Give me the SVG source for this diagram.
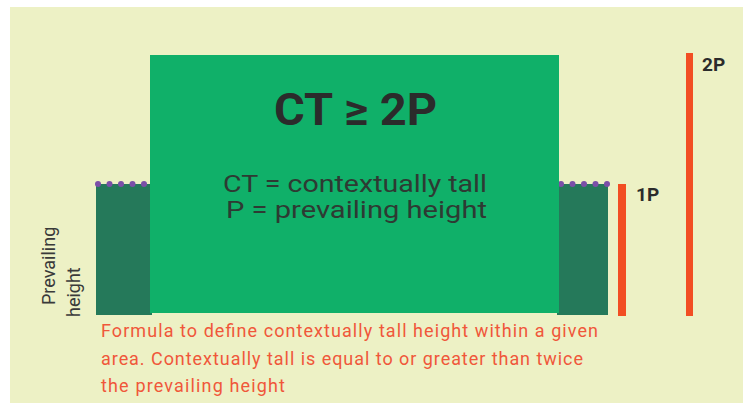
<svg xmlns="http://www.w3.org/2000/svg" width="743" height="403" viewBox="0 0 743 403">
<style>
.dark{fill:#25795a}
.dot{fill:#7b4fa8}
.bar{fill:#f24e23}
.lbl{font-family:Roboto,"Liberation Sans",sans-serif;font-weight:bold;font-size:19px;fill:#2b2b2b}
.def{font-family:Roboto,"Liberation Sans",sans-serif;font-size:23px;fill:#2e3a33}
.cap{font-family:Roboto,"Liberation Sans",sans-serif;font-size:18px;fill:#f0573a}
.side{font-family:Roboto,"Liberation Sans",sans-serif;font-size:18px;fill:#3a3a3a}
</style>
<rect width="743" height="403" fill="#ffffff"/>
<rect x="10" y="7" width="733" height="396" fill="#edf1c5"/>
<g id="left-block">
<rect class="dark" x="96" y="184" width="56" height="131"/>
<circle class="dot" cx="98" cy="184" r="3"/>
<circle class="dot" cx="109.5" cy="184" r="3"/>
<circle class="dot" cx="121" cy="184" r="3"/>
<circle class="dot" cx="132.5" cy="184" r="3"/>
<circle class="dot" cx="144" cy="184" r="3"/>
</g>
<g id="right-block">
<rect class="dark" x="557" y="184" width="51" height="131"/>
<circle class="dot" cx="561" cy="184" r="3"/>
<circle class="dot" cx="572.5" cy="184" r="3"/>
<circle class="dot" cx="584" cy="184" r="3"/>
<circle class="dot" cx="595.5" cy="184" r="3"/>
<circle class="dot" cx="607" cy="184" r="3"/>
</g>
<g id="tall-block">
<rect x="150" y="55" width="409" height="258" fill="#10b069"/>
<text x="274" y="125" textLength="163" lengthAdjust="spacingAndGlyphs" style="font-family:Roboto,'Liberation Sans',sans-serif;font-weight:bold;font-size:45px;fill:#2b2b2b">CT ≥ 2P</text>
<text class="def" x="223" y="192" textLength="264" lengthAdjust="spacingAndGlyphs">CT = contextually tall</text>
<text class="def" x="226" y="218" textLength="261" lengthAdjust="spacingAndGlyphs">P = prevailing height</text>
</g>
<g id="bar-1p">
<rect class="bar" x="618" y="184" width="8" height="132"/>
<text class="lbl" x="636" y="201">1P</text>
</g>
<g id="bar-2p">
<rect class="bar" x="686" y="53" width="7" height="263"/>
<text class="lbl" x="702" y="71">2P</text>
</g>
<g id="side-label">
<text class="side" transform="translate(55,305) rotate(-90)">Prevailing</text>
<text class="side" transform="translate(80,317) rotate(-90)">height</text>
</g>
<g id="caption">
<text class="cap" x="101" y="337" textLength="497" lengthAdjust="spacing">Formula to define contextually tall height within a given</text>
<text class="cap" x="101" y="365" textLength="482" lengthAdjust="spacing">area. Contextually tall is equal to or greater than twice</text>
<text class="cap" x="101" y="392" textLength="184" lengthAdjust="spacing">the prevailing height</text>
</g>
<g id="connectors"/>
</svg>
